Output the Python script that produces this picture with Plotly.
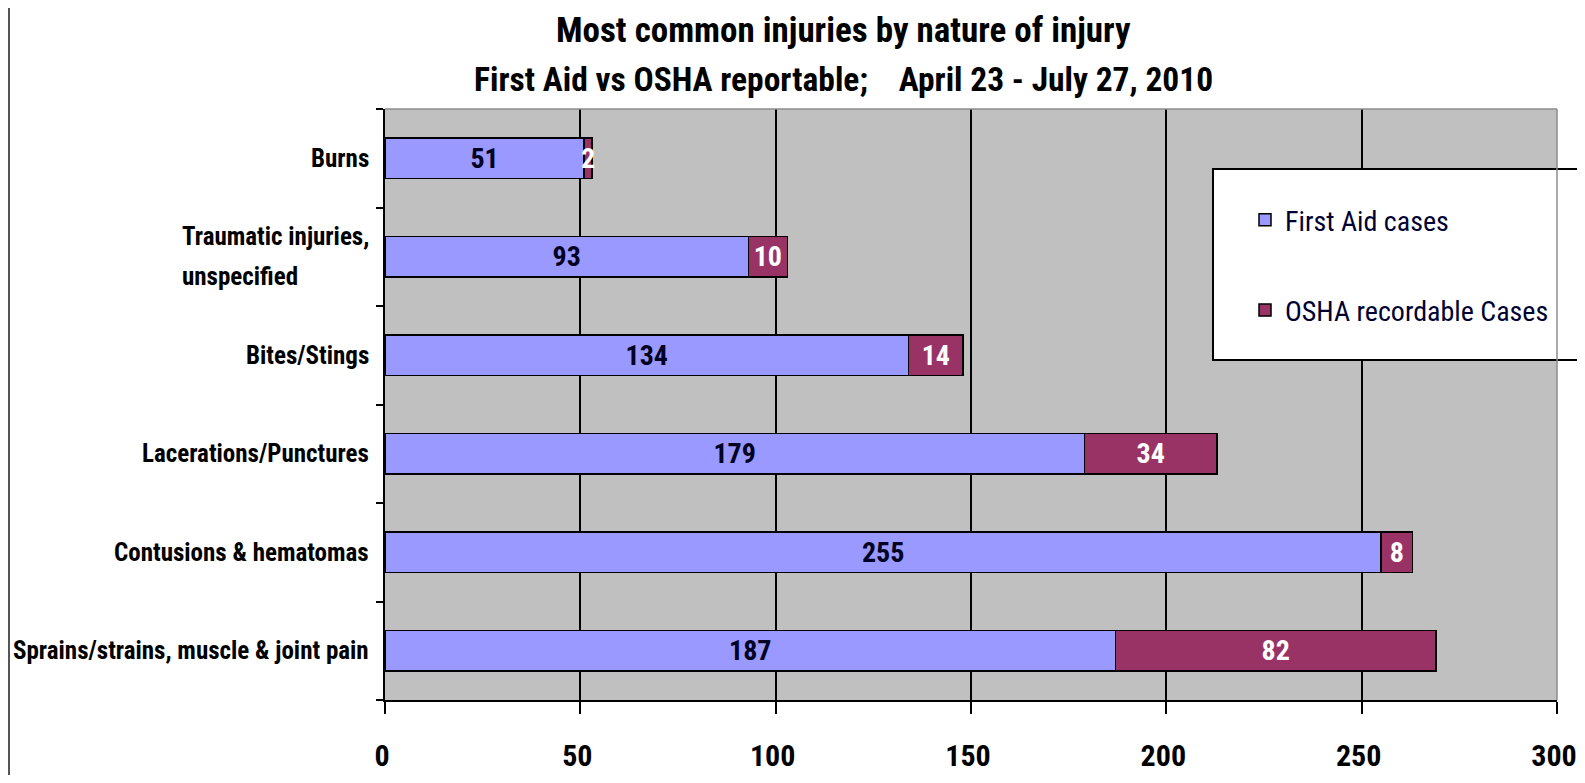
import plotly.graph_objects as go

categories = ["Sprains/strains, muscle & joint pain", "Contusions & hematomas",
              "Lacerations/Punctures", "Bites/Stings",
              "Traumatic injuries, unspecified", "Burns"]
first_aid = [187, 255, 179, 134, 93, 51]
osha = [82, 8, 34, 14, 10, 2]
series_names = ["First Aid cases", "OSHA recordable Cases"]
x_ticks = [0, 50, 100, 150, 200, 250, 300]
title_lines = ["Most common injuries by nature of injury",
               "First Aid vs OSHA reportable;\u00a0\u00a0\u00a0\u00a0April 23 - July 27, 2010"]

FONT = "Roboto, Liberation Sans, sans-serif"


def cond(s):
    return f"<span style='font-stretch:condensed'>{s}</span>"


# page body has an 8px margin: figure covers page x 8..1585, y 8..775
OFF = 8
W, H = 1585 - OFF, 783 - 2 * OFF
PL, PR, PT, PB = 385, 1557, 109, 700          # plot area in page pixels
L, R, T, B = PL - OFF, W - (PR - OFF), PT - OFF, H - (PB - OFF)
pw, ph = W - L - R, H - T - B


def px(xp):   # page x -> paper
    return (xp - PL) / pw


def py(yp):   # page y -> paper
    return (PB - yp) / ph


fig = go.Figure()
fig.add_trace(go.Bar(
    y=categories, x=first_aid, orientation="h", name=cond(series_names[0]),
    marker=dict(color="#9999FF", line=dict(color="#000000", width=1.5)),
    text=first_aid, texttemplate=cond("%{text}"), textposition="inside",
    insidetextanchor="middle", textangle=0,
    textfont=dict(family=FONT, size=28, color="#000022", weight="bold"),
    legendgroup="a", width=0.413, constraintext="none"))
fig.add_trace(go.Bar(
    y=categories, x=osha, orientation="h", name=cond(series_names[1]),
    marker=dict(color="#993366", line=dict(color="#000000", width=1.5)),
    text=osha, texttemplate=cond("%{text}"), textposition="inside",
    insidetextanchor="middle", textangle=0,
    textfont=dict(family=FONT, size=28, color="#FFFFFF", weight="bold"),
    legendgroup="b", width=0.413, constraintext="none"))

lab_font = dict(family=FONT, size=25, color="#000000", weight="bold")
annotations = []
for c in categories:
    if c.startswith("Traumatic"):
        annotations.append(dict(x=0, xref="paper", y=c, yref="y", text=cond("Traumatic injuries,"),
                                xanchor="right", xshift=-14, yshift=20, showarrow=False, font=lab_font))
        annotations.append(dict(x=0, xref="paper", y=c, yref="y", text=cond("unspecified"),
                                xanchor="left", xshift=-205, yshift=-20, showarrow=False, font=lab_font))
    else:
        annotations.append(dict(x=0, xref="paper", y=c, yref="y", text=cond(c),
                                xanchor="right", xshift=-14, showarrow=False, font=lab_font))

annotations.append(dict(x=px(843), xref="paper", y=py(30), yref="paper", text=cond(title_lines[0]),
                        showarrow=False, xanchor="center", yanchor="middle",
                        font=dict(family=FONT, size=35, color="#000000", weight="bold")))
annotations.append(dict(x=px(843), xref="paper", y=py(79), yref="paper", text=cond(title_lines[1]),
                        showarrow=False, xanchor="center", yanchor="middle",
                        font=dict(family=FONT, size=33.5, color="#000000", weight="bold")))

shapes = [
    dict(type="rect", xref="paper", yref="paper",
         x0=px(1213), x1=px(1640), y0=py(360), y1=py(169),
         fillcolor="#FFFFFF", line=dict(color="#000000", width=2), layer="above"),
    dict(type="line", xref="paper", yref="paper",
         x0=px(OFF + 1), x1=px(OFF + 1), y0=py(800), y1=py(0),
         line=dict(color="#555555", width=2)),
    dict(type="line", xref="paper", yref="paper", x0=0, x1=1, y0=1, y1=1,
         line=dict(color="#8C8C8C", width=1.5)),
    dict(type="line", xref="paper", yref="paper", x0=1, x1=1, y0=0, y1=1,
         line=dict(color="#8C8C8C", width=1.5)),
]

fig.update_layout(
    width=W, height=H,
    margin=dict(l=L, r=R, t=T, b=B, pad=0, autoexpand=False),
    paper_bgcolor="#FFFFFF", plot_bgcolor="#C0C0C0",
    barmode="stack", bargap=0.59,
    font=dict(family=FONT, color="#000000"),
    uniformtext=dict(minsize=28, mode="show"),
    showlegend=True,
    legend=dict(x=px(1245), y=py(195), xanchor="left", yanchor="top",
                bgcolor="rgba(0,0,0,0)", borderwidth=0,
                traceorder="grouped", tracegroupgap=51,
                font=dict(family=FONT, size=28, color="#000033")),
    annotations=annotations,
    shapes=shapes,
    xaxis=dict(range=[0, 300], tickvals=x_ticks, ticktext=[cond(str(v)) for v in x_ticks],
               showgrid=True, gridcolor="#000000", gridwidth=1.5,
               showline=True, linecolor="#000000", linewidth=2,
               ticks="outside", ticklen=12, tickwidth=2, tickcolor="#000000",
               ticklabelstandoff=16, ticklabeloverflow="allow", ticklabelshift=-3,
               zeroline=False, automargin=False,
               tickfont=dict(family=FONT, size=30, color="#000000", weight="bold")),
    yaxis=dict(categoryorder="array", categoryarray=categories,
               showticklabels=False, showgrid=False, tickson="boundaries",
               ticks="outside", ticklen=7, tickwidth=2, tickcolor="#000000",
               showline=True, linecolor="#000000", linewidth=2, zeroline=False,
               automargin=False),
)

fig.write_html("out.html")
